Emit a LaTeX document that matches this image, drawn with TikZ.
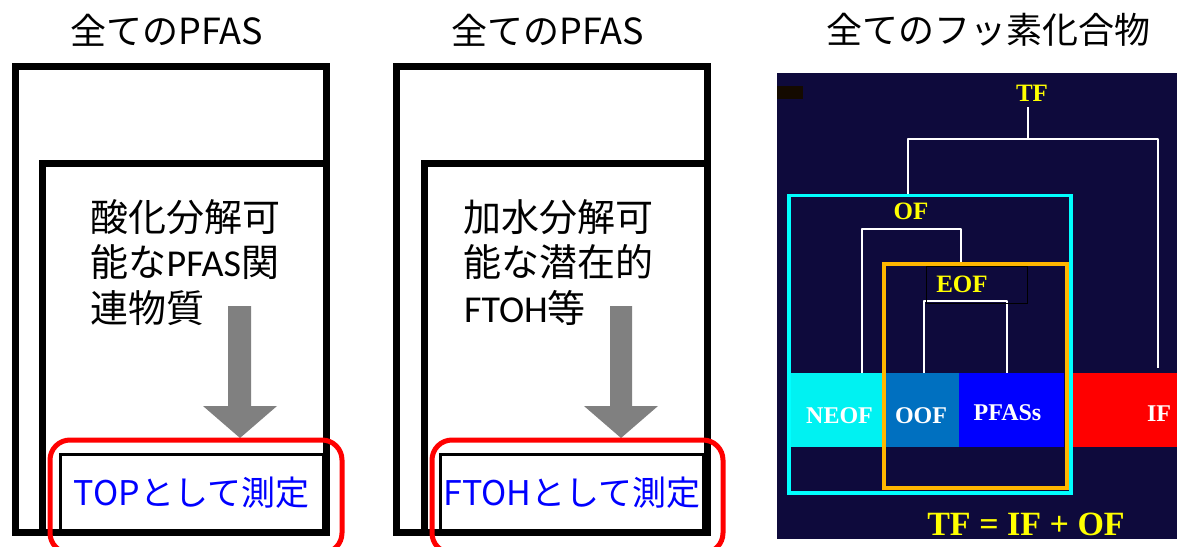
\documentclass[tikz,border=0pt]{standalone}
\usepackage{fontspec}
\newfontfamily\jp{Noto Sans CJK JP}
\newfontfamily\lat{Carlito}
\newfontfamily\tms{Liberation Serif}
\definecolor{navy}{RGB}{14,10,60}
\definecolor{arrowgray}{RGB}{128,128,128}
\definecolor{oofblue}{RGB}{0,112,192}
\definecolor{framecyan}{RGB}{0,255,255}
\definecolor{barcyan}{RGB}{0,242,242}
\definecolor{frameorange}{RGB}{255,182,0}
\definecolor{lblyellow}{RGB}{255,255,0}
\tikzset{
  head/.style={font=\jp\fontsize{36}{43}\selectfont, inner sep=0pt, anchor=center},
  body/.style={font=\jp\fontsize{38}{45}\selectfont, inner sep=0pt, anchor=west},
  thickbox/.style={draw=black, line width=7pt, line join=miter},
  measbox/.style={draw=black, line width=3pt, inner sep=0pt, text=blue,
    font=\jp\fontsize{34}{40}\selectfont},
  redframe/.style={draw=red, line width=5pt, rounded corners=20pt},
  grayarrow/.style={fill=arrowgray},
  bar/.style={inner sep=0pt, minimum height=74pt},
  barlbl/.style={text=white, font=\tms\bfseries\fontsize{24}{28}\selectfont, inner sep=0pt},
  ylbl/.style={text=lblyellow, font=\tms\bfseries\fontsize{25}{28}\selectfont, inner sep=0pt},
  tree/.style={draw=white, line width=2pt},
}
\begin{document}
\begin{tikzpicture}[x=1pt,y=-1pt]
\useasboundingbox (0,0) rectangle (1177,546);
\fill[white] (0,0) rectangle (1177,546);

% headings
\node[head] (h1) at (167,30) {全てのPFAS};
\node[head] (h2) at (548,30) {全てのPFAS};
\node[head] (h3) at (988,30) {全てのフッ素化合物};

% ---------- panel 1 ----------
\draw[thickbox] (15.5,66.5) rectangle (326,532.5);
\draw[thickbox] (42.5,163) rectangle (326,532.5);
\node[body] (a1) at (90.5,217) {酸化分解可};
\node[body] (a2) at (90.5,262) {能な{\lat PFAS}関};
\node[body] (a3) at (90.5,308) {連物質};
\fill[grayarrow] (228,306) -- (251,306) -- (251,406) -- (277,406) -- (240,438)
  -- (203,406) -- (228,406) -- cycle;
\node[measbox, minimum width=263pt, minimum height=78pt] (m1) at (191.5,493) {TOPとして測定};
\draw[redframe] (50,440) rectangle (342,553);

% ---------- panel 2 ----------
\draw[thickbox] (396,66.5) rectangle (707,532.5);
\draw[thickbox] (424,163) rectangle (707,532.5);
\node[body] (b1) at (463,217) {加水分解可};
\node[body] (b2) at (463,262) {能な潜在的};
\node[body] (b3) at (464,308) {{\lat FTOH}等};
\fill[grayarrow] (610,306) -- (632,306) -- (632,406) -- (658,406) -- (621,438)
  -- (584,406) -- (610,406) -- cycle;
\node[measbox, minimum width=263pt, minimum height=78pt] (m2) at (572,493) {FTOHとして測定};
\draw[redframe] (432,440) rectangle (723,553);

% ---------- panel 3 ----------
\fill[navy] (777,73) rectangle (1177,539);
\fill[black!92!orange] (777,86) rectangle (803,99);

\node[bar, fill=barcyan, minimum width=95pt] (neof) at (835.5,410) {};
\node[bar, fill=oofblue, minimum width=76pt] (oof) at (921,410) {};
\node[bar, fill=blue, minimum width=105pt] (pfas) at (1011.5,410) {};
\node[bar, fill=red, minimum width=110pt] (if) at (1127,410) {};

\node[barlbl] (neofl) at (839.5,416) {NEOF};
\node[barlbl] (oofl) at (921,416) {OOF};
\node[barlbl] (pfasl) at (1007.5,413) {PFASs};
\node[barlbl] (ifl) at (1159,413.5) {IF};

\node[ylbl] (tf) at (1032,93.5) {TF};
\node[ylbl] (of) at (911,211.5) {OF};

% tree connectors
\coordinate (tfb) at (1028,107);
\coordinate (tfj) at (1028,139);
\coordinate (oftop) at (908,195);
\coordinate (iftop) at (1158,368);
\draw[tree] (tfb) -- (tfj);
\draw[tree, line join=round] (oftop) -- (oftop |- tfj) -- (iftop |- tfj) -- (iftop);

\coordinate (ofj) at (862,229);
\coordinate (neoftop) at (862,373);
\coordinate (eoftop) at (961,264);
\draw[tree, line join=round] (neoftop) -- (neoftop |- ofj) -- (eoftop |- ofj) -- (eoftop);

\coordinate (eofj) at (924,301);
\coordinate (ooftop) at (924,373);
\coordinate (pfastop) at (1007,373);
\draw[tree, line join=round] (ooftop) -- (ooftop |- eofj) -- (pfastop |- eofj) -- (pfastop);

% frames
\draw[draw=framecyan, line width=3.5pt] (789,195.5) rectangle (1071,493);
\draw[draw=frameorange, line width=4pt] (884,264) rectangle (1066.5,488);
\draw[black, line width=1pt] (926,266) rectangle (1027,303);
\node[ylbl] (eof) at (962,284.5) {EOF};

\node[text=lblyellow, font=\tms\bfseries\fontsize{34}{40}\selectfont, inner sep=0pt] (eq) at (1026,524) {TF = IF + OF};
\end{tikzpicture}
\end{document}
